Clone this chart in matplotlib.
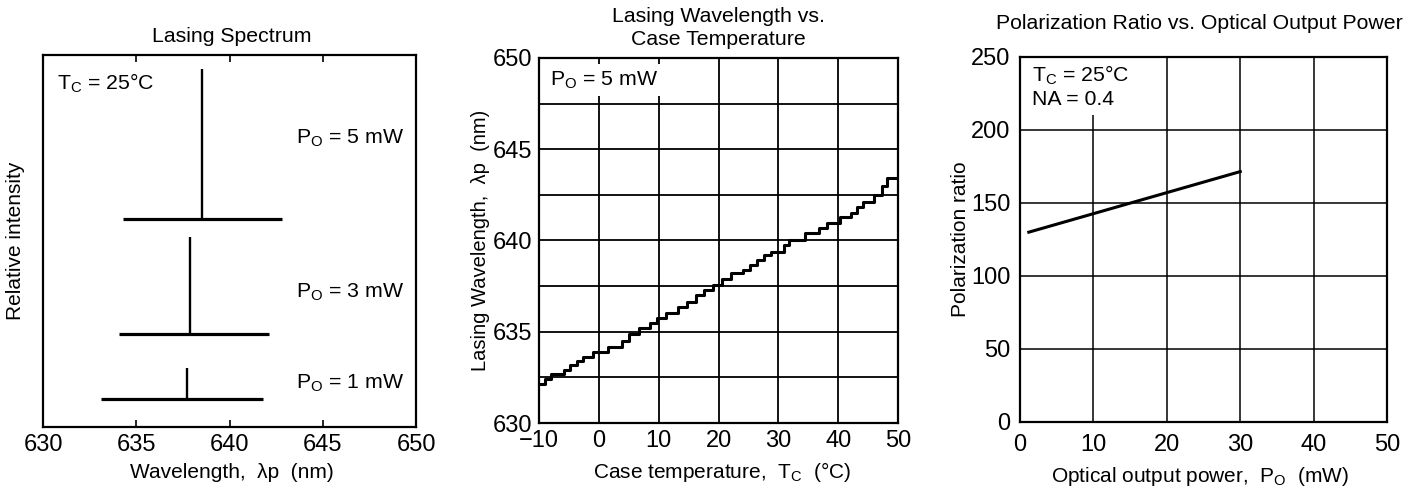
import matplotlib
matplotlib.use("Agg")
import matplotlib.pyplot as plt

plt.rcParams['font.family'] = ['Liberation Sans', 'DejaVu Sans']
plt.rcParams['mathtext.fontset'] = 'custom'
plt.rcParams['mathtext.rm'] = 'Liberation Sans'
plt.rcParams['mathtext.it'] = 'Liberation Sans:italic'
plt.rcParams['mathtext.default'] = 'regular'

# ---------------- data ----------------
# Panel 1: lasing spectrum
spec_power_labels = ["P$_{O}$ = 5 mW", "P$_{O}$ = 3 mW", "P$_{O}$ = 1 mW"]
spec_peak_nm = [638.5, 637.9, 637.7]
spec_base_start = [634.3, 634.1, 633.1]
spec_base_end = [642.8, 642.1, 641.8]
spec_baseline = [0.559, 0.250, 0.075]
spec_peak_top = [0.962, 0.511, 0.159]
spec_label_y = [0.777, 0.363, 0.118]

# Panel 2: lasing wavelength vs case temperature (step trace)
case_temp = [-10, -8.99, -8.08, -5.77, -4.81, -3.61, -2.64, -0.96, 1.47, 3.82,
             5.0, 6.76, 8.53, 9.7, 11.18, 13.2, 14.7, 16.2, 17.6, 19.1,
             20.6, 22.06, 24.1, 25.3, 26.5, 27.6, 28.8, 30.9, 31.8, 34.4,
             36.8, 38.2, 40.26, 42.1, 43.2, 44.2, 46.05, 47.4, 48.2, 50]
lasing_wl = [632.16, 632.40, 632.67, 632.93, 633.17, 633.40, 633.62, 633.90, 634.17, 634.50,
             634.90, 635.18, 635.49, 635.78, 636.00, 636.37, 636.64, 637.01, 637.28, 637.56,
             637.87, 638.20, 638.38, 638.65, 638.93, 639.20, 639.39, 639.75, 640.03, 640.39,
             640.67, 640.94, 641.27, 641.53, 641.86, 642.13, 642.50, 642.96, 643.41, 643.41]

# Panel 3: polarization ratio vs optical output power
opt_power = [1.2, 30]
pol_ratio = [130, 171.5]

# ---------------- figure ----------------
fig = plt.figure(figsize=(14.2, 4.87), dpi=100)

frame_lw = 1.6
grid_lw = 1.3
tick_fs = 17
label_fs = 15
title_fs = 15.3
note_fs = 15.3

# ---- Panel 1 ----
ax1 = fig.add_axes([0.0303, 0.1232, 0.2627, 0.7638])
for i in range(3):
    ax1.hlines(spec_baseline[i], spec_base_start[i], spec_base_end[i], color='black', lw=2.3)
    ax1.vlines(spec_peak_nm[i], spec_baseline[i], spec_peak_top[i], color='black', lw=1.7)
    ax1.text(643.55, spec_label_y[i], spec_power_labels[i], fontsize=note_fs, va='center', ha='left')
ax1.text(0.038, 0.925, "T$_{C}$ = 25°C", transform=ax1.transAxes, fontsize=note_fs, va='center', ha='left')
ax1.set_xlim(630, 650)
ax1.set_ylim(0, 1)
ax1.set_xticks([630, 635, 640, 645, 650])
ax1.set_yticks([])
ax1.tick_params(axis='x', direction='in', top=True, bottom=True, length=5, width=1.2,
                labelsize=tick_fs, pad=5)
for s in ax1.spines.values():
    s.set_linewidth(frame_lw)
ax1.set_xlabel("Wavelength,  λp  (nm)", fontsize=label_fs)
ax1.xaxis.set_label_coords(0.507, -0.097)
ax1.set_ylabel("Relative intensity", fontsize=label_fs)
ax1.yaxis.set_label_coords(-0.048, 0.5)
ax1.text(0.507, 1.051, "Lasing Spectrum", transform=ax1.transAxes, fontsize=title_fs,
         ha='center', va='center')

# ---- Panel 2 ----
ax2 = fig.add_axes([0.3796, 0.1314, 0.2528, 0.7496])
ax2.step(case_temp, lasing_wl, where='post', color='black', lw=2.2, zorder=4)
ax2.set_xlim(-10, 50)
ax2.set_ylim(630, 650)
ax2.set_xticks([-10, 0, 10, 20, 30, 40, 50])
ax2.set_xticklabels(["\u221210", "0", "10", "20", "30", "40", "50"])
ax2.set_yticks([630, 635, 640, 645, 650])
ax2.set_yticks([632.5, 637.5, 642.5, 647.5], minor=True)
ax2.grid(True, which='both', color='black', lw=grid_lw, zorder=1)
ax2.set_axisbelow(True)
ax2.tick_params(which='both', length=0, labelsize=tick_fs, pad=5)
for s in ax2.spines.values():
    s.set_linewidth(frame_lw)
    s.set_zorder(6)
ax2.text(0.031, 0.94, "P$_{O}$ = 5 mW", transform=ax2.transAxes, fontsize=note_fs, va='center', ha='left',
         zorder=5, bbox=dict(facecolor='white', edgecolor='none', pad=4))
ax2.set_xlabel("Case temperature,  T$_{C}$  (°C)", fontsize=label_fs)
ax2.xaxis.set_label_coords(0.51, -0.101)
ax2.set_ylabel("Lasing Wavelength,  λp  (nm)", fontsize=14.5)
ax2.yaxis.set_label_coords(-0.136, 0.5)
ax2.text(0.499, 1.081, "Lasing Wavelength vs.\nCase Temperature", transform=ax2.transAxes,
         fontsize=title_fs, ha='center', va='center', linespacing=1.27)

# ---- Panel 3 ----
ax3 = fig.add_axes([0.7183, 0.1335, 0.2585, 0.7495])
ax3.plot(opt_power, pol_ratio, color='black', lw=2.2, zorder=4)
ax3.set_xlim(0, 50)
ax3.set_ylim(0, 250)
ax3.set_xticks([0, 10, 20, 30, 40, 50])
ax3.set_yticks([0, 50, 100, 150, 200, 250])
ax3.grid(True, color='black', lw=1.1, zorder=1)
ax3.set_axisbelow(True)
ax3.tick_params(length=0, labelsize=tick_fs, pad=7)
ax3.tick_params(axis='x', pad=9)
for s in ax3.spines.values():
    s.set_linewidth(frame_lw)
    s.set_zorder(6)
ax3.text(0.033, 0.92, "T$_{C}$ = 25°C\nNA = 0.4", transform=ax3.transAxes, fontsize=note_fs,
         va='center', ha='left', linespacing=1.22, zorder=5,
         bbox=dict(facecolor='white', edgecolor='none', pad=4))
ax3.set_xlabel("Optical output power,  P$_{O}$  (mW)", fontsize=label_fs)
ax3.xaxis.set_label_coords(0.49, -0.118)
ax3.set_ylabel("Polarization ratio", fontsize=label_fs)
ax3.yaxis.set_label_coords(-0.136, 0.5)
ax3.text(0.49, 1.093, "Polarization Ratio vs. Optical Output Power", transform=ax3.transAxes,
         fontsize=title_fs, ha='center', va='center')

fig.savefig("out.png", dpi=100, facecolor='white')
